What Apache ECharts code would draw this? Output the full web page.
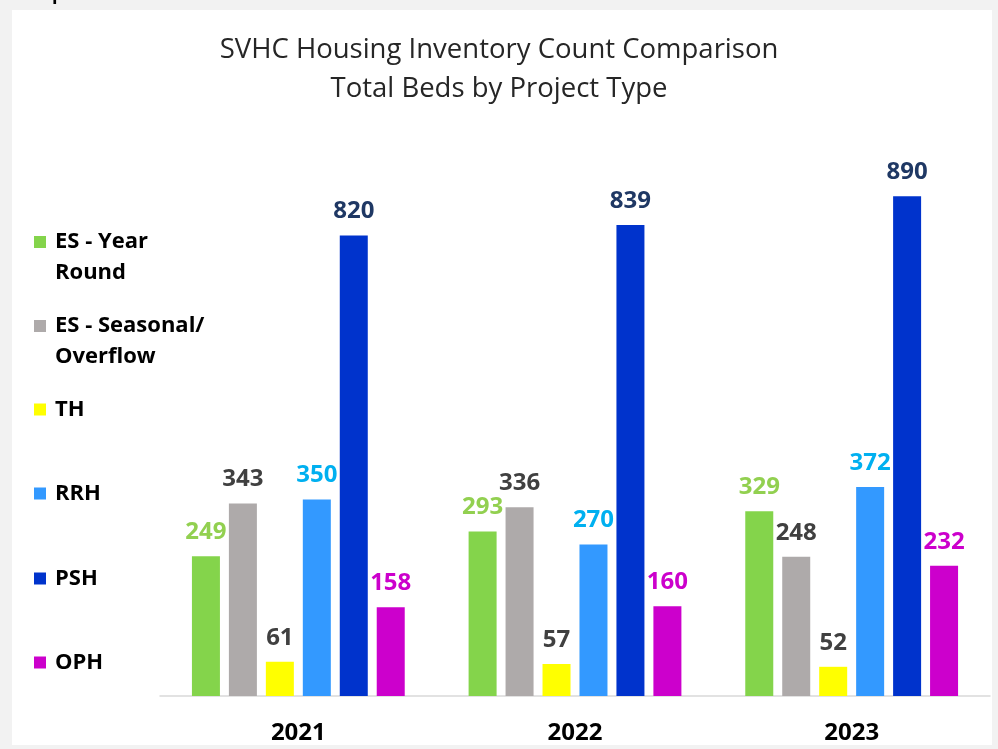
<!DOCTYPE html>
<html>
<head>
<meta charset="utf-8">
<script src="https://cdn.jsdelivr.net/npm/echarts@6/dist/echarts.min.js"></script>
<style>
  html, body { margin: 0; padding: 0; background: #f2f2f2; }
  #chart { width: 998px; height: 749px; }
</style>
</head>
<body>
<div id="chart"></div>
<script>
// data
const years = ['2021', '2022', '2023']
const esYearRound = [249, 293, 329]
const esSeasonal = [343, 336, 248]
const th = [61, 57, 52]
const rrh = [350, 270, 372]
const psh = [820, 839, 890]
const oph = [158, 160, 232]

const seriesDefs = [
  { name: 'ES - Year\nRound', data: esYearRound, color: '#84d44b', label: '#92d050', top: 195.5, two: true },
  { name: 'ES - Seasonal/\nOverflow', data: esSeasonal, color: '#aeaaaa', label: '#404040', top: 279.5, two: true },
  { name: 'TH', data: th, color: '#ffff00', label: '#404040', top: 394 },
  { name: 'RRH', data: rrh, color: '#3399ff', label: '#00b0f0', top: 478 },
  { name: 'PSH', data: psh, color: '#0033cc', label: '#1f3864', top: 563 },
  { name: 'OPH', data: oph, color: '#cc00cc', label: '#cc00cc', top: 647 }
]

const font = 'Open Sans'

const chart = echarts.init(document.getElementById('chart'))

const option = {
  backgroundColor: '#f2f2f2',
  animation: false,
  textStyle: { fontFamily: font },
  graphic: [
    {
      type: 'rect', z: -10, silent: true,
      shape: { x: 12, y: 10, width: 980, height: 735 },
      style: { fill: '#ffffff' }
    },
    {
      type: 'text', left: 20, top: -14, silent: true,
      style: { text: 'Graph 12', fontFamily: font, fontWeight: 'bold', fontSize: 18, fill: '#000' }
    }
  ],
  title: {
    text: 'SVHC Housing Inventory Count Comparison\nTotal Beds by Project Type',
    left: 'center',
    top: 26,
    textStyle: { fontFamily: font, fontWeight: 'normal', fontSize: 27.5, lineHeight: 39, color: '#262626' }
  },
  legend: seriesDefs.map(s => ({
    data: [s.name],
    orient: 'vertical',
    left: 34,
    top: s.top,
    padding: 0,
    icon: 'rect',
    itemWidth: 12,
    itemHeight: 12,
    selectedMode: false,
    // empty first line keeps the square beside the first line of two-line names
    formatter: name => (s.two ? '\n' + name : name),
    textStyle: {
      fontFamily: font, fontWeight: 'bold', fontSize: 22, lineHeight: 31, color: '#000',
      padding: [0, 0, 0, 4]
    }
  })),
  grid: { left: 160, right: 8, top: 134.5, bottom: 53 },
  xAxis: {
    type: 'category',
    data: years,
    axisLine: { lineStyle: { color: '#d9d9d9', width: 1.5 } },
    axisTick: { length: 10, lineStyle: { color: '#d9d9d9', width: 1.5 } },
    axisLabel: { margin: 25, fontFamily: font, fontWeight: 'bold', fontSize: 24, color: '#000' }
  },
  yAxis: { type: 'value', min: 0, max: 1000, show: false, splitLine: { show: false } },
  series: seriesDefs.map(s => ({
    name: s.name,
    type: 'bar',
    data: s.data,
    barWidth: 28,
    barGap: '32%',
    barCategoryGap: '23%',
    itemStyle: { color: s.color },
    label: {
      show: true,
      position: 'top',
      distance: 12,
      fontFamily: font,
      fontWeight: 'bold',
      fontSize: 24,
      color: s.label
    }
  }))
}

chart.setOption(option)
</script>
</body>
</html>
